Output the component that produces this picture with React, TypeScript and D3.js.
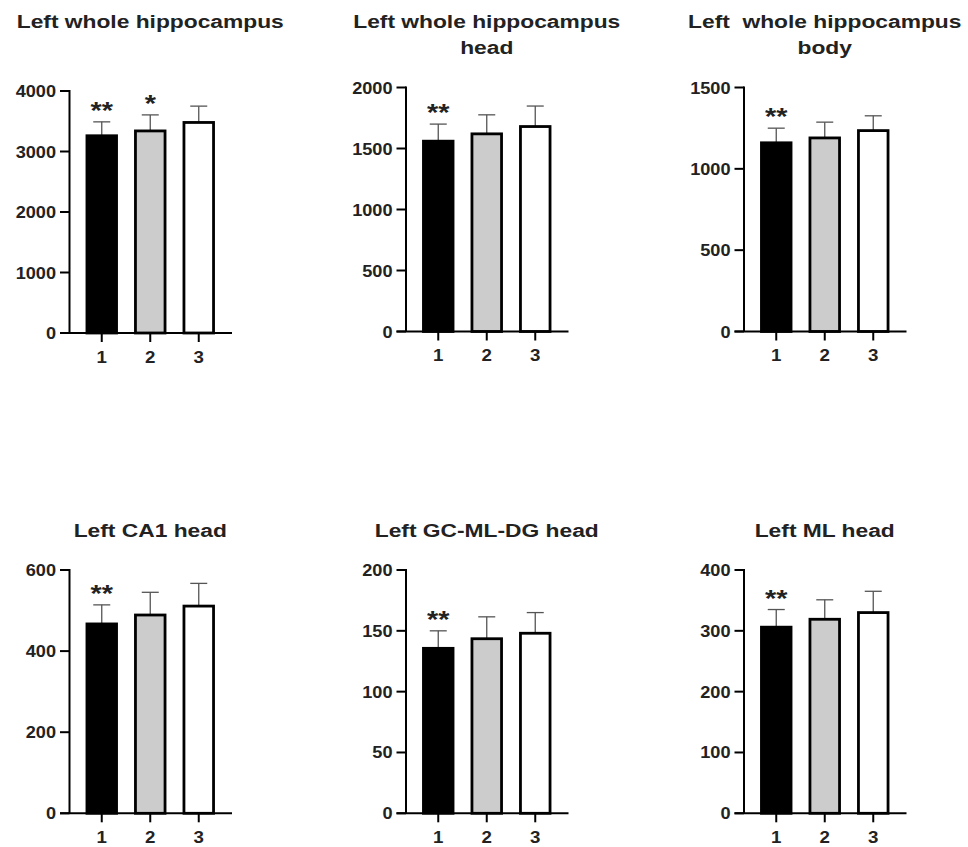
import React from "react";
import * as d3 from "d3";

// ---- data ----
const groups = ["1", "2", "3"];
const titles: string[][] = [
  ["Left whole hippocampus"],
  ["Left whole hippocampus", "head"],
  ["Left  whole hippocampus", "body"],
  ["Left CA1 head"],
  ["Left GC-ML-DG head"],
  ["Left ML head"],
];
const yMax = [4000, 2000, 1500, 600, 200, 400];
const yStep = [1000, 500, 500, 200, 50, 100];
const wholeMeans = [3260, 3340, 3480];
const wholeSD = [230, 265, 270];
const headMeans = [1560, 1620, 1680];
const headSD = [140, 156, 168];
const bodyMeans = [1160, 1190, 1235];
const bodySD = [90, 97, 91];
const ca1Means = [467, 489, 511];
const ca1SD = [47, 56, 56];
const gcMeans = [135.6, 143.5, 148];
const gcSD = [14.4, 18, 17];
const mlMeans = [306, 319, 330];
const mlSD = [29, 32, 35];
const means = [wholeMeans, headMeans, bodyMeans, ca1Means, gcMeans, mlMeans];
const sds = [wholeSD, headSD, bodySD, ca1SD, gcSD, mlSD];
const stars: string[][] = [
  ["**", "*", ""],
  ["**", "", ""],
  ["**", "", ""],
  ["**", "", ""],
  ["**", "", ""],
  ["**", "", ""],
];

// ---- layout / style ----
const fills = ["#000000", "#cccccc", "#ffffff"];
const axisXs = [69.5, 406, 744];
const rowGeom = [
  [
    { y0: 333, yTop: 91 },
    { y0: 331.5, yTop: 87.5 },
    { y0: 331.5, yTop: 87.5 },
  ],
  [
    { y0: 813.3, yTop: 570 },
    { y0: 813.3, yTop: 570 },
    { y0: 813.3, yTop: 570 },
  ],
];
const titleBase = [27.5, 536.5];
const TSX = 1.2;
const KSX = 1.1;
const FONT = "'Liberation Sans', Arial, Helvetica, sans-serif";
const TXT = "#222";

function Panel({ i }: { i: number }) {
  const row = Math.floor(i / 3);
  const col = i % 3;
  const ax = axisXs[col];
  const { y0, yTop } = rowGeom[row][col];
  const y = d3.scaleLinear().domain([0, yMax[i]]).range([y0, yTop]);
  const x = d3
    .scaleBand<string>()
    .domain(groups)
    .range([ax + 8, ax + 8 + 3 * 48.5])
    .paddingInner(0.39)
    .paddingOuter(0.195);
  const ticks = d3.range(0, yMax[i] + 1e-9, yStep[i]);
  const bw = x.bandwidth();
  const cx = (g: string) => (x(g) as number) + bw / 2;
  const titleX = cx("2");
  return (
    <g>
      {titles[i].map((t, k) => (
        <text
          key={k}
          transform={`translate(${titleX},${titleBase[row] + k * 26}) scale(${TSX},1)`}
          textAnchor="middle"
          fontFamily={FONT}
          fontWeight="bold"
          fontSize={19}
          fill={TXT}
          style={{ whiteSpace: "pre" }}
        >
          {t}
        </text>
      ))}
      {groups.map((g, j) => {
        const m = means[i][j];
        const top = y(m + sds[i][j]);
        return (
          <g key={g}>
            <line x1={cx(g)} x2={cx(g)} y1={y(m)} y2={top} stroke="#555" strokeWidth={1.3} />
            <line x1={cx(g) - 8.5} x2={cx(g) + 8.5} y1={top} y2={top} stroke="#555" strokeWidth={1.3} />
            <rect
              x={x(g)}
              y={y(m)}
              width={bw}
              height={y0 - y(m)}
              fill={fills[j]}
              stroke="#000"
              strokeWidth={2.8}
            />
            {stars[i][j] && (
              <text
                transform={`translate(${cx(g)},${top - 3}) scale(1.2,1)`}
                textAnchor="middle"
                fontFamily={FONT}
                fontWeight="bold"
                fontSize={24}
                fill={TXT}
              >
                {stars[i][j]}
              </text>
            )}
          </g>
        );
      })}
      <line x1={ax} x2={ax} y1={y0} y2={yTop - 1} stroke="#000" strokeWidth={2} />
      {ticks.map((t) => (
        <g key={t}>
          <line x1={ax - 9.5} x2={ax} y1={y(t)} y2={y(t)} stroke="#000" strokeWidth={2} />
          <text
            transform={`translate(${ax - 13.5},${y(t) + 6}) scale(${KSX},1)`}
            textAnchor="end"
            fontFamily={FONT}
            fontWeight="bold"
            fontSize={16.5}
            fill={TXT}
          >
            {t}
          </text>
        </g>
      ))}
      <line x1={ax - 9.5} x2={ax + 162.5} y1={y0} y2={y0} stroke="#000" strokeWidth={2} />
      {groups.map((g) => (
        <g key={g}>
          <line x1={cx(g)} x2={cx(g)} y1={y0} y2={y0 + 9} stroke="#000" strokeWidth={2} />
          <text
            transform={`translate(${cx(g)},${y0 + 29.5}) scale(${KSX},1)`}
            textAnchor="middle"
            fontFamily={FONT}
            fontWeight="bold"
            fontSize={17}
            fill={TXT}
          >
            {g}
          </text>
        </g>
      ))}
    </g>
  );
}

export default function App() {
  return (
    <svg
      width={968}
      height={847}
      style={{ position: "absolute", left: 0, top: 0, background: "#fff" }}
    >
      <rect width={968} height={847} fill="#fff" />
      {titles.map((_, i) => (
        <Panel key={i} i={i} />
      ))}
    </svg>
  );
}
